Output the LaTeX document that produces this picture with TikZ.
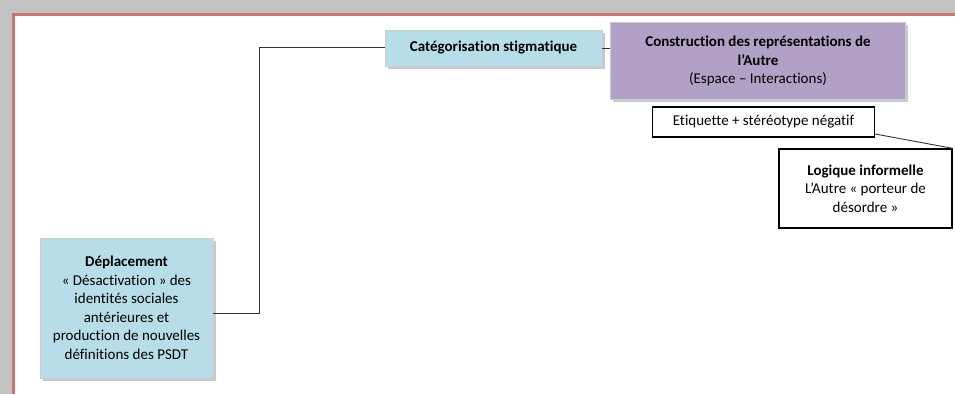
\documentclass[tikz,border=0pt]{standalone}
\usepackage{fontspec}
\setmainfont{Carlito}[Ligatures=NoCommon]
\usetikzlibrary{shadows}
\definecolor{bgray}{HTML}{C3C3C3}
\definecolor{bred}{HTML}{C0504D}
\definecolor{lblue}{HTML}{B7DDE8}
\definecolor{lpurple}{HTML}{B2A1C7}
\begin{document}
\begin{tikzpicture}[x=1pt,y=-1pt,
  every node/.style={font=\fontsize{15}{18.5}\selectfont, align=center, inner sep=0pt},
  colbox/.style={draw=gray!40, line width=0.8pt, drop shadow={shadow xshift=2.5pt, shadow yshift=-2.5pt, fill=gray!70, opacity=0.6}},
  blkbox/.style={draw=black, line width=1.3pt, fill=white},
  conn/.style={draw=black!80, line width=0.9pt}]
\useasboundingbox (0,0) rectangle (955,394);
% background
\fill[bgray] (0,0) rectangle (955,394);
\fill[white] (13,14) rectangle (955,394);
\draw[bred!80, line width=2.5pt] (955,14.5) -- (13.5,14.5) -- (13.5,394);
% nodes
\node[colbox, fill=lblue, minimum width=217pt, minimum height=36pt] (cat) at (493.5,48) {\bfseries Catégorisation stigmatique};
\node[colbox, fill=lpurple, minimum width=295pt, minimum height=77pt] (cons) at (758,61) {\bfseries Construction des représentations de\\ \bfseries l’Autre\\ (Espace – Interactions)};
\node[blkbox, minimum width=222pt, minimum height=30pt] (eti) at (763.5,122) {Etiquette + stéréotype négatif};
\node[blkbox, minimum width=173pt, minimum height=79pt] (log) at (865.5,188.5) {\bfseries Logique informelle\\ L’Autre « porteur de\\ désordre »};
\node[colbox, fill=lblue, minimum width=173pt, minimum height=140pt] (dep) at (126.5,308) {\bfseries Déplacement\\ « Désactivation » des\\ identités sociales\\ antérieures et\\ production de nouvelles\\ définitions des PSDT};
% connectors
\coordinate (bend1) at (259,313);
\coordinate (bend2) at (259,47);
\draw[conn] (dep.east |- bend1) -- (bend1) -- (bend2) -- (cat.west |- bend2);
\draw[conn] (cat.east) -- (cons.west |- cat.east);
\draw[conn] (eti.east |- 0,134) -- (log.north east);
\end{tikzpicture}
\end{document}
